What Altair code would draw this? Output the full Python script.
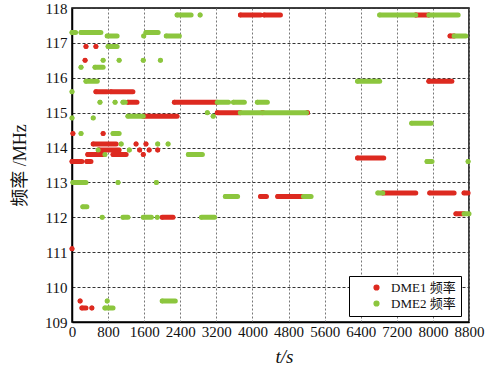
import altair as alt
import pandas as pd

# DME1 (red) segments: start time, end time, frequency
dme1_start = [0, 0, 330, 350, 910, 1580, 600, 1500, 1710, 1900, 470, 1420, 1640, 20, 690,
              530, 860, 1240, 2270, 1580, 3220, 4220, 5220, 290, 310, 530, 3733, 4260,
              2000, 4180, 4560, 180, 220, 440, 6330, 6890, 7930, 8690, 8510, 7620, 8380, 7910]
dme1_end = [0, 220, 420, 690, 1200, 1580, 1045, 1500, 1710, 1900, 980, 1420, 1640, 20, 690,
            780, 1350, 1440, 3200, 2330, 3730, 4220, 5220, 290, 310, 530, 4180, 4620,
            2240, 4310, 5130, 180, 310, 440, 6910, 7620, 8470, 8780, 8690, 7910, 8470, 8420]
dme1_freq = [111.1, 113.6, 113.6, 113.8, 113.8, 113.8, 113.93, 113.93, 113.93, 113.93, 114.1, 114.1, 114.1, 114.4, 114.4,
             115.6, 115.6, 115.3, 115.3, 114.9, 115.0, 115.0, 115.0, 116.5, 116.9, 116.9, 117.8, 117.8,
             112.0, 112.6, 112.6, 109.6, 109.4, 109.4, 113.7, 112.7, 112.7, 112.7, 112.1, 117.8, 117.2, 115.9]

# DME2 (green) segments
dme2_start = [0, 200, 1640, 780, 1590, 2090, 2330, 2840, 6820, 7910, 800, 690, 1045, 1580, 1960,
              200, 510, 310, 6330, 0, 620, 955, 1130, 3220, 3580, 4110, 1240, 3130, 0, 470,
              3000, 3730, 4240, 200, 910, 1090, 1900, 2130, 580, 1270, 730, 2580, 20, 1020, 1870,
              240, 670, 1130, 1580, 1890, 2870, 3400, 5130, 780, 2000, 730, 8470, 7530, 7870, 8780,
              6780, 8690]
dme2_end = [80, 640, 1910, 1000, 1590, 2380, 2640, 2840, 7620, 8560, 1000, 690, 1045, 1580, 1960,
            200, 690, 560, 6820, 0, 620, 955, 1180, 3470, 3820, 4330, 1580, 3130, 0, 470,
            3000, 4200, 5200, 200, 1045, 1090, 1900, 2130, 580, 1270, 730, 2890, 310, 1020, 1870,
            330, 670, 1240, 1760, 1890, 3160, 3670, 5300, 780, 2290, 910, 8730, 7960, 7980, 8780,
            6890, 8800]
dme2_freq = [117.3, 117.3, 117.3, 117.2, 117.2, 117.2, 117.8, 117.8, 117.8, 117.8, 116.9, 116.5, 116.5, 116.5, 116.5,
             116.3, 116.3, 115.9, 115.9, 115.6, 115.3, 115.3, 115.3, 115.3, 115.3, 115.3, 114.9, 114.9, 114.85, 114.85,
             115.0, 115.0, 115.0, 114.4, 114.4, 114.1, 114.1, 114.1, 113.93, 113.93, 113.8, 113.8, 113.0, 113.0, 113.0,
             112.3, 112.0, 112.0, 112.0, 112.0, 112.0, 112.6, 112.6, 109.6, 109.6, 109.4, 117.2, 114.7, 113.6, 113.6,
             112.7, 112.1]

series_names = ["DME1 频率", "DME2 频率"]
series_colors = ["#dd2a20", "#8cc63e"]
x_ticks = [0, 800, 1600, 2400, 3200, 4000, 4800, 5600, 6400, 7200, 8000, 8800]
y_ticks = [109, 110, 111, 112, 113, 114, 115, 116, 117, 118]

df = pd.concat([
    pd.DataFrame({"s": series_names[0], "start": dme1_start, "end": dme1_end, "f": dme1_freq}),
    pd.DataFrame({"s": series_names[1], "start": dme2_start, "end": dme2_end, "f": dme2_freq}),
], ignore_index=True)

serif = "Liberation Serif, Noto Sans CJK SC"

xscale = alt.Scale(domain=[0, 8800], nice=False, zero=False)
yscale = alt.Scale(domain=[109, 118], nice=False, zero=False)
cscale = alt.Scale(domain=series_names, range=series_colors)

xaxis = alt.Axis(values=x_ticks, format="d", title="t/s", labelFont=serif, labelFontSize=15,
                 labelColor="#111", labelPadding=2, tickSize=0, grid=True, gridColor="#777",
                 gridDash=[2, 2], gridWidth=1, domainColor="#000", domainWidth=1.5,
                 labelOverlap=False, labelFlush=False, labelSeparation=0, labelBound=False,
                 titleFont=serif, titleFontSize=19, titleFontWeight="normal",
                 titleFontStyle="italic", titleColor="#111", titleX=212, titleY=40,
                 titleBaseline="alphabetic")
yaxis = alt.Axis(values=y_ticks, format="d", title="频率 /MHz", labelFont=serif, labelFontSize=15,
                 labelColor="#111", labelPadding=5, tickSize=0, grid=True, gridColor="#333",
                 gridDash=[3, 2], gridWidth=1, domainColor="#000", domainWidth=1.5,
                 labelOverlap=False, labelFlush=False,
                 titleFont=serif, titleFontSize=18, titleFontWeight="normal", titleColor="#111",
                 titleX=-52, titleY=157, titleAlign="center", titleBaseline="middle")

legend = alt.Legend(title=None, orient="none", legendX=277, legendY=268, symbolType="circle",
                    symbolSize=22, labelFont=serif, labelFontSize=13, labelColor="#111",
                    strokeColor="#000", fillColor="#fff", padding=5, rowPadding=2,
                    symbolOffset=16, labelOffset=8)

base = alt.Chart(df)
dots = base.mark_circle(size=24, opacity=1).encode(
    x=alt.X("start:Q", scale=xscale, axis=xaxis),
    y=alt.Y("f:Q", scale=yscale, axis=yaxis),
    color=alt.Color("s:N", scale=cscale, legend=legend),
)
segs = base.mark_rule(strokeWidth=5, strokeCap="round").encode(
    x=alt.X("start:Q", scale=xscale, axis=xaxis),
    x2="end:Q",
    y=alt.Y("f:Q", scale=yscale, axis=yaxis),
    color=alt.Color("s:N", scale=cscale, legend=legend),
)

chart = alt.layer(dots, segs).properties(
    width=397, height=314,
    autosize=alt.AutoSizeParams(type="none"),
    padding={"left": 72, "top": 8, "right": 19, "bottom": 45},
    background="#ffffff",
).configure_view(stroke="#000", strokeWidth=1.5)

chart.save("out.html", embed_options={"renderer": "svg", "actions": False})
